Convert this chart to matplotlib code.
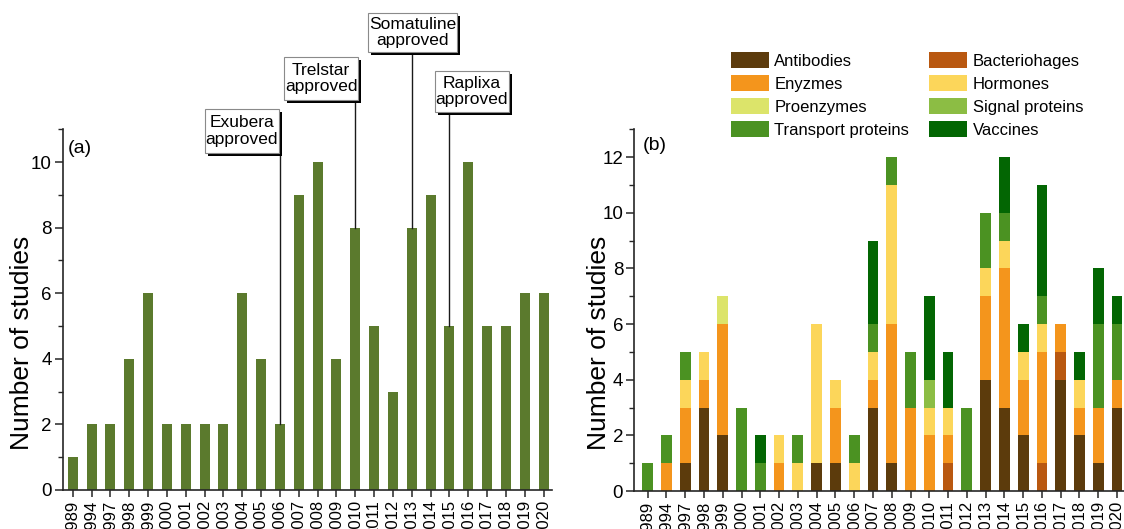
import matplotlib
matplotlib.use("Agg")
import matplotlib.pyplot as plt
from matplotlib.patches import Rectangle
from matplotlib.ticker import MultipleLocator
import numpy as np

plt.rcParams['font.family'] = ['Liberation Sans', 'DejaVu Sans']

# ---------------- data ----------------
years = ['1989', '1994', '1997', '1998', '1999', '2000', '2001', '2002', '2003',
         '2004', '2005', '2006', '2007', '2008', '2009', '2010', '2011', '2012',
         '2013', '2014', '2015', '2016', '2017', '2018', '2019', '2020']

total_studies = [1, 2, 2, 4, 6, 2, 2, 2, 2, 6, 4, 2, 9, 10, 4, 8, 5, 3, 8, 9, 5, 10, 5, 5, 6, 6]

antibodies     = [0, 0, 1, 3, 2, 0, 0, 0, 0, 1, 1, 0, 3, 1, 0, 0, 0, 0, 4, 3, 2, 0, 4, 2, 1, 3]
bacteriophages = [0, 0, 0, 0, 0, 0, 0, 0, 0, 0, 0, 0, 0, 0, 0, 0, 1, 0, 0, 0, 0, 1, 1, 0, 0, 0]
enzymes        = [0, 1, 2, 1, 4, 0, 0, 1, 0, 0, 2, 0, 1, 5, 3, 2, 1, 0, 3, 5, 2, 4, 1, 1, 2, 1]
hormones       = [0, 0, 1, 1, 0, 0, 0, 1, 1, 5, 1, 1, 1, 5, 0, 1, 1, 0, 1, 1, 1, 1, 0, 1, 0, 0]
proenzymes     = [0, 0, 0, 0, 1, 0, 0, 0, 0, 0, 0, 0, 0, 0, 0, 0, 0, 0, 0, 0, 0, 0, 0, 0, 0, 0]
signal_prot    = [0, 0, 0, 0, 0, 0, 0, 0, 0, 0, 0, 0, 0, 0, 0, 1, 0, 0, 0, 0, 0, 0, 0, 0, 0, 0]
transport_prot = [1, 1, 1, 0, 0, 3, 1, 0, 1, 0, 0, 1, 1, 1, 2, 0, 0, 3, 2, 1, 0, 1, 0, 0, 3, 2]
vaccines       = [0, 0, 0, 0, 0, 0, 1, 0, 0, 0, 0, 0, 3, 0, 0, 3, 2, 0, 0, 2, 1, 4, 0, 1, 2, 1]

# stacking order (bottom -> top)
stack_series = [antibodies, bacteriophages, enzymes, hormones,
                proenzymes, signal_prot, transport_prot, vaccines]
stack_labels = ['Antibodies', 'Bacteriohages', 'Enyzmes', 'Hormones',
                'Proenzymes', 'Signal proteins', 'Transport proteins', 'Vaccines']
stack_colors = ['#5c3b0c', '#b95810', '#f4951c', '#fcd65a',
                '#dce46a', '#8cbd44', '#4b9222', '#036603']

approvals = [('Exubera\napproved', '2006'), ('Trelstar\napproved', '2010'),
             ('Somatuline\napproved', '2013'), ('Raplixa\napproved', '2015')]

# ---------------- figure ----------------
W, H = 1124, 529
fig = plt.figure(figsize=(W / 100, H / 100), dpi=100)
fig.patch.set_facecolor('white')

def px_axes(l, t, r, b):
    return fig.add_axes([l / W, 1 - b / H, (r - l) / W, (b - t) / H])

axa = px_axes(62.7, 129.3, 552, 490)
axb = px_axes(634.3, 129.3, 1124, 491)

x = np.arange(len(years))
spine_c = '#262626'

def style(ax, ymax, xl, xr):
    for s in ['top', 'right']:
        ax.spines[s].set_visible(False)
    for s in ['left', 'bottom']:
        ax.spines[s].set_color(spine_c)
        ax.spines[s].set_linewidth(1.2)
    ax.set_ylim(0, ymax)
    ax.set_xlim(xl, xr)
    ax.yaxis.set_major_locator(MultipleLocator(2))
    ax.yaxis.set_minor_locator(MultipleLocator(1))
    ax.set_xticks(x)
    ax.set_xticklabels(years, rotation=90, fontsize=12)
    ax.tick_params(axis='y', which='major', length=6, width=1.1, labelsize=13.5,
                   color=spine_c, pad=2)
    ax.tick_params(axis='y', which='minor', length=3.5, width=1.0, color=spine_c)
    ax.tick_params(axis='x', which='major', length=5, width=1.1, color=spine_c, pad=2)
    ax.set_facecolor('none')

# panel (a)
axa.bar(x, total_studies, width=0.53, color='#5b7a2d', zorder=2)
style(axa, 11, -0.53, 25.45)
axa.text(68 / W, 1 - 148.5 / H, '(a)', transform=fig.transFigure, fontsize=14,
         ha='left', va='center')

# panel (b)
bottom = np.zeros(len(years))
for vals, lab, col in zip(stack_series, stack_labels, stack_colors):
    axb.bar(x, vals, width=0.57, bottom=bottom, color=col, label=lab, zorder=2)
    bottom += np.array(vals)
style(axb, 13, -0.71, 25.37)
axb.text(643 / W, 1 - 146 / H, '(b)', transform=fig.transFigure, fontsize=14,
         ha='left', va='center')

for xc in (22, 599):
    fig.text(xc / W, 1 - 343 / H, 'Number of studies', rotation=90, fontsize=19,
             ha='center', va='center')

# legend (2 columns)
handles, labels = axb.get_legend_handles_labels()
leg_order = ['Antibodies', 'Enyzmes', 'Proenzymes', 'Transport proteins',
             'Bacteriohages', 'Hormones', 'Signal proteins', 'Vaccines']
hmap = dict(zip(labels, handles))
fig.legend([hmap[l] for l in leg_order], leg_order, ncol=2, frameon=False,
           loc='upper left', bbox_to_anchor=(731 / W, 1 - 52.5 / H),
           bbox_transform=fig.transFigure, fontsize=12, borderpad=0,
           borderaxespad=0, handlelength=2.25, handleheight=1.1,
           handletextpad=0.35, labelspacing=0.37, columnspacing=1.2)

# approval annotation boxes (pixel boxes: left, top, right, bottom)
boxes = {'2006': (205, 109, 279, 153), '2010': (284, 57, 358, 100),
         '2013': (368, 13, 457, 52), '2015': (435, 71, 509, 112)}
inv = axa.transData.inverted()
for txt, yr in approvals:
    l, t, r, b = boxes[yr]
    i = years.index(yr)
    v = total_studies[i]
    ytop = inv.transform(fig.transFigure.transform((0, 1 - b / H)))[1]
    axa.plot([i, i], [v, ytop], color='#1a1a1a', lw=1.0, clip_on=False, zorder=3)
    sh = 3
    fig.add_artist(Rectangle(((l + sh) / W, 1 - (b + sh) / H), (r - l) / W, (b - t) / H,
                             transform=fig.transFigure, facecolor='black',
                             edgecolor='none', zorder=4))
    fig.add_artist(Rectangle((l / W, 1 - b / H), (r - l) / W, (b - t) / H,
                             transform=fig.transFigure, facecolor='white',
                             edgecolor='#8a8a8a', lw=0.8, zorder=5))
    fig.text((l + r) / 2 / W, 1 - (t + b) / 2 / H, txt, fontsize=12.5, ha='center',
             va='center', linespacing=1.15, zorder=6)

fig.savefig('out.png', dpi=100)
